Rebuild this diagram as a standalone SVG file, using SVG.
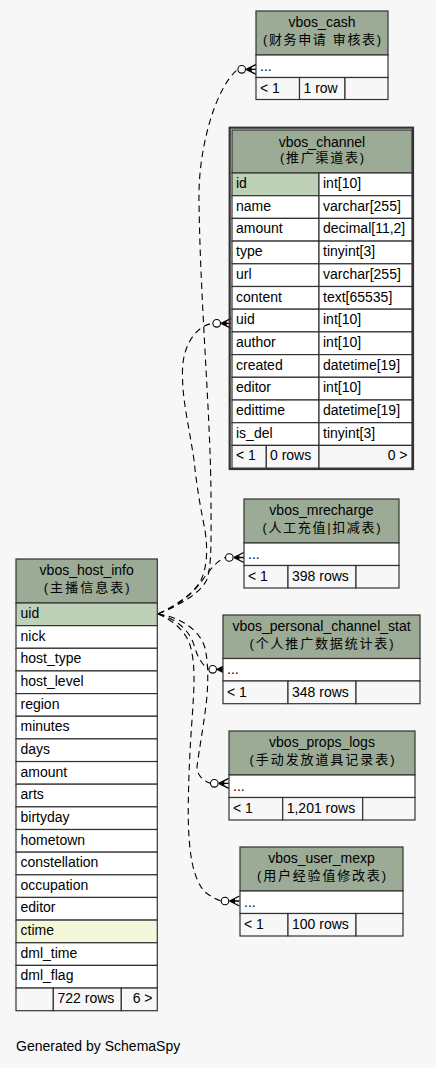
<svg xmlns="http://www.w3.org/2000/svg" width="436" height="1068" viewBox="0 0 436 1068">
<defs>
<style>
.bg{fill:#f7f7f7}
rect.h{fill:#9bab96;stroke:#333;stroke-width:1.2}
rect.w{fill:#ffffff;stroke:#333;stroke-width:1.2}
rect.k{fill:#bed1b8;stroke:#333;stroke-width:1.2}
rect.i{fill:#f4f7da;stroke:#333;stroke-width:1.2}
rect.f{fill:#f7f7f7;stroke:#333;stroke-width:1.2}
rect.frame{fill:none;stroke:#333;stroke-width:2.2}
text{font-family:"Liberation Sans",Arial,"Noto Sans CJK SC",sans-serif;font-size:14px;fill:#000}
text.c{font-size:13px}
.m{text-anchor:middle}
.e{text-anchor:end}
.edge{fill:none;stroke:#000;stroke-width:1.1;stroke-dasharray:6.5,4.5}
</style>
<marker id="crowodot" markerUnits="userSpaceOnUse" orient="0" refX="0" refY="0" markerWidth="20" markerHeight="12" viewBox="0 -6 20 12" overflow="visible">
<circle cx="4" cy="0" r="3.8" fill="#ffffff" stroke="#000" stroke-width="1.1"/>
<path d="M8.5,0 L18.5,-5 M8.5,0 L18.5,0 M8.5,0 L18.5,5" fill="none" stroke="#000" stroke-width="1.3"/>
<path d="M8.5,0 L14,-2.6 L14,2.6 Z" fill="#000"/>
</marker>
</defs>
<rect class="bg" x="0" y="0" width="436" height="1068"/>

<g id="connectors">
<path class="edge" marker-end="url(#crowodot)" d="M158,614 C182,604 200,593 206.7,580 C212,565 211,540 211,500 C211,420 200,300 199,200 C198,150 215,88 237.7,69.3"/>
<path class="edge" marker-end="url(#crowodot)" d="M158,614 C180,603 195,592 201,580 C209,563 207,540 204,525 C199,500 196,480 194,460 C188,420 182,400 182.5,370 C183,345 196,326 212.7,323.3"/>
<path class="edge" marker-end="url(#crowodot)" d="M158,614 C175,607 188,598 198,586 C206,576 213,563 225.3,557.5"/>
<path class="edge" marker-end="url(#crowodot)" d="M158,614 C178,619 190,632 194,645 C197,655 200,663 208.7,669.3"/>
<path class="edge" marker-end="url(#crowodot)" d="M158,614 C180,617 200,630 205,648 C209,665 208,690 206,705 C203,730 199,750 197,767 C197,775 203,781 210.3,783.3"/>
<path class="edge" marker-end="url(#crowodot)" d="M158,614 C172,620 185,630 190,645 C196,665 194,690 192,720 C189,760 188,800 188.3,820 C189,850 192,878 205,892 C210,896 215,899 221,901"/>
</g>

<g id="vbos_cash">
<rect class="h" x="256" y="11" width="132" height="44"/>
<rect class="w" x="256" y="55" width="132" height="22.5"/>
<rect class="f" x="256" y="77.5" width="43.5" height="22"/>
<rect class="f" x="299.5" y="77.5" width="45.5" height="22"/>
<rect class="f" x="345" y="77.5" width="43" height="22"/>
<text class="m" x="322" y="27">vbos_cash</text>
<text class="c m" x="322" y="43.5" textLength="118" lengthAdjust="spacing">(财务申请 审核表)</text>
<text x="260" y="70.5">...</text>
<text x="260" y="93">&lt; 1</text>
<text x="303.5" y="93">1 row</text>
</g>

<g id="vbos_channel">
<rect class="frame" x="229.7" y="127.7" width="183.3" height="341.3"/>
<rect class="h" x="232" y="130" width="180" height="43"/>
<text class="m" x="322" y="146.5">vbos_channel</text>
<text class="c m" x="322" y="162" textLength="84" lengthAdjust="spacing">(推广渠道表)</text>
<rect class="k" x="232" y="173" width="87" height="22.7"/><rect class="w" x="319" y="173" width="93" height="22.7"/>
<rect class="w" x="232" y="195.7" width="87" height="22.7"/><rect class="w" x="319" y="195.7" width="93" height="22.7"/>
<rect class="w" x="232" y="218.4" width="87" height="22.7"/><rect class="w" x="319" y="218.4" width="93" height="22.7"/>
<rect class="w" x="232" y="241.1" width="87" height="22.7"/><rect class="w" x="319" y="241.1" width="93" height="22.7"/>
<rect class="w" x="232" y="263.8" width="87" height="22.7"/><rect class="w" x="319" y="263.8" width="93" height="22.7"/>
<rect class="w" x="232" y="286.5" width="87" height="22.7"/><rect class="w" x="319" y="286.5" width="93" height="22.7"/>
<rect class="w" x="232" y="309.2" width="87" height="22.7"/><rect class="w" x="319" y="309.2" width="93" height="22.7"/>
<rect class="w" x="232" y="331.9" width="87" height="22.7"/><rect class="w" x="319" y="331.9" width="93" height="22.7"/>
<rect class="w" x="232" y="354.6" width="87" height="22.7"/><rect class="w" x="319" y="354.6" width="93" height="22.7"/>
<rect class="w" x="232" y="377.3" width="87" height="22.7"/><rect class="w" x="319" y="377.3" width="93" height="22.7"/>
<rect class="w" x="232" y="400" width="87" height="22.7"/><rect class="w" x="319" y="400" width="93" height="22.7"/>
<rect class="w" x="232" y="422.7" width="87" height="22.7"/><rect class="w" x="319" y="422.7" width="93" height="22.7"/>
<rect class="f" x="232" y="445.4" width="34.3" height="22.7"/><rect class="f" x="266.3" y="445.4" width="52.7" height="22.7"/><rect class="f" x="319" y="445.4" width="93" height="22.7"/>
<text x="236" y="188">id</text><text x="323" y="188">int[10]</text>
<text x="236" y="210.7">name</text><text x="323" y="210.7">varchar[255]</text>
<text x="236" y="233.4">amount</text><text x="323" y="233.4">decimal[11,2]</text>
<text x="236" y="256.1">type</text><text x="323" y="256.1">tinyint[3]</text>
<text x="236" y="278.8">url</text><text x="323" y="278.8">varchar[255]</text>
<text x="236" y="301.5">content</text><text x="323" y="301.5">text[65535]</text>
<text x="236" y="324.2">uid</text><text x="323" y="324.2">int[10]</text>
<text x="236" y="346.9">author</text><text x="323" y="346.9">int[10]</text>
<text x="236" y="369.6">created</text><text x="323" y="369.6">datetime[19]</text>
<text x="236" y="392.3">editor</text><text x="323" y="392.3">int[10]</text>
<text x="236" y="415">edittime</text><text x="323" y="415">datetime[19]</text>
<text x="236" y="437.7">is_del</text><text x="323" y="437.7">tinyint[3]</text>
<text x="236" y="460.4">&lt; 1</text><text x="270" y="460.4">0 rows</text><text class="e" x="407.5" y="460.4">0 &gt;</text>
</g>

<g id="vbos_mrecharge">
<rect class="h" x="244" y="499" width="155" height="44"/>
<rect class="w" x="244" y="543" width="155" height="22.5"/>
<rect class="f" x="244" y="565.5" width="44" height="22.5"/>
<rect class="f" x="288" y="565.5" width="68" height="22.5"/>
<rect class="f" x="356" y="565.5" width="43" height="22.5"/>
<text class="m" x="321.5" y="515">vbos_mrecharge</text>
<text class="c m" x="321.5" y="531.5" textLength="118" lengthAdjust="spacing">(人工充值|扣减表)</text>
<text x="248" y="558.5">...</text>
<text x="248" y="581">&lt; 1</text>
<text x="292" y="581">398 rows</text>
</g>

<g id="vbos_host_info">
<rect class="h" x="16" y="559" width="141.3" height="44"/>
<text class="m" x="86.7" y="575">vbos_host_info</text>
<text class="c m" x="86.7" y="591.5" textLength="86" lengthAdjust="spacing">(主播信息表)</text>
<rect class="k" x="16" y="603" width="141.3" height="22.65"/>
<rect class="w" x="16" y="625.65" width="141.3" height="22.65"/>
<rect class="w" x="16" y="648.3" width="141.3" height="22.65"/>
<rect class="w" x="16" y="670.95" width="141.3" height="22.65"/>
<rect class="w" x="16" y="693.6" width="141.3" height="22.65"/>
<rect class="w" x="16" y="716.25" width="141.3" height="22.65"/>
<rect class="w" x="16" y="738.9" width="141.3" height="22.65"/>
<rect class="w" x="16" y="761.55" width="141.3" height="22.65"/>
<rect class="w" x="16" y="784.2" width="141.3" height="22.65"/>
<rect class="w" x="16" y="806.85" width="141.3" height="22.65"/>
<rect class="w" x="16" y="829.5" width="141.3" height="22.65"/>
<rect class="w" x="16" y="852.15" width="141.3" height="22.65"/>
<rect class="w" x="16" y="874.8" width="141.3" height="22.65"/>
<rect class="w" x="16" y="897.45" width="141.3" height="22.65"/>
<rect class="i" x="16" y="920.1" width="141.3" height="22.65"/>
<rect class="w" x="16" y="942.75" width="141.3" height="22.65"/>
<rect class="w" x="16" y="965.4" width="141.3" height="22.65"/>
<rect class="f" x="16" y="988.05" width="37.3" height="22.65"/>
<rect class="f" x="53.3" y="988.05" width="68" height="22.65"/>
<rect class="f" x="121.3" y="988.05" width="36" height="22.65"/>
<text x="20.5" y="618">uid</text>
<text x="20.5" y="640.65">nick</text>
<text x="20.5" y="663.3">host_type</text>
<text x="20.5" y="685.95">host_level</text>
<text x="20.5" y="708.6">region</text>
<text x="20.5" y="731.25">minutes</text>
<text x="20.5" y="753.9">days</text>
<text x="20.5" y="776.55">amount</text>
<text x="20.5" y="799.2">arts</text>
<text x="20.5" y="821.85">birtyday</text>
<text x="20.5" y="844.5">hometown</text>
<text x="20.5" y="867.15">constellation</text>
<text x="20.5" y="889.8">occupation</text>
<text x="20.5" y="912.45">editor</text>
<text x="20.5" y="935.1">ctime</text>
<text x="20.5" y="957.75">dml_time</text>
<text x="20.5" y="980.4">dml_flag</text>
<text x="57.5" y="1003.05">722 rows</text>
<text class="e" x="152.5" y="1003.05">6 &gt;</text>
</g>

<g id="vbos_personal_channel_stat">
<rect class="h" x="223" y="615" width="197" height="43.5"/>
<rect class="w" x="223" y="658.5" width="197" height="22.5"/>
<rect class="f" x="223" y="681" width="65" height="22.7"/>
<rect class="f" x="288" y="681" width="68" height="22.7"/>
<rect class="f" x="356" y="681" width="64" height="22.7"/>
<text class="m" x="321.5" y="631">vbos_personal_channel_stat</text>
<text class="c m" x="321.5" y="647.5" textLength="144" lengthAdjust="spacing">(个人推广数据统计表)</text>
<text x="227" y="674">...</text>
<text x="227" y="696.5">&lt; 1</text>
<text x="292" y="696.5">348 rows</text>
</g>

<g id="vbos_props_logs">
<rect class="h" x="229" y="731" width="186" height="44"/>
<rect class="w" x="229" y="775" width="186" height="22.5"/>
<rect class="f" x="229" y="797.5" width="53.7" height="22.5"/>
<rect class="f" x="282.7" y="797.5" width="80" height="22.5"/>
<rect class="f" x="362.7" y="797.5" width="52.3" height="22.5"/>
<text class="m" x="322" y="747">vbos_props_logs</text>
<text class="c m" x="322" y="763.5" textLength="145" lengthAdjust="spacing">(手动发放道具记录表)</text>
<text x="233" y="790.5">...</text>
<text x="233" y="813">&lt; 1</text>
<text x="286.7" y="813">1,201 rows</text>
</g>

<g id="vbos_user_mexp">
<rect class="h" x="240" y="847" width="163" height="44"/>
<rect class="w" x="240" y="891" width="163" height="22.5"/>
<rect class="f" x="240" y="913.5" width="48" height="22.5"/>
<rect class="f" x="288" y="913.5" width="68" height="22.5"/>
<rect class="f" x="356" y="913.5" width="47" height="22.5"/>
<text class="m" x="321.5" y="863">vbos_user_mexp</text>
<text class="c m" x="321.5" y="879.5" textLength="129" lengthAdjust="spacing">(用户经验值修改表)</text>
<text x="244" y="906.5">...</text>
<text x="244" y="929">&lt; 1</text>
<text x="292" y="929">100 rows</text>
</g>

<text x="16" y="1051">Generated by SchemaSpy</text>
</svg>
